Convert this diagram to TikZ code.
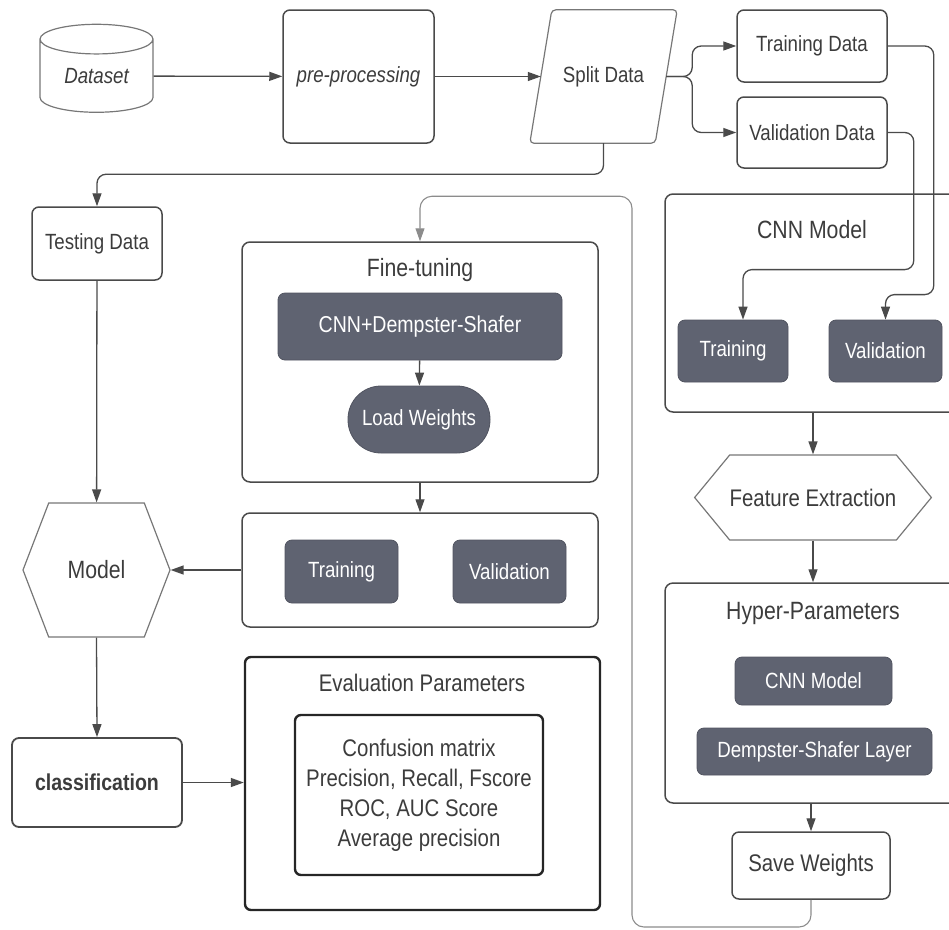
\documentclass[tikz,border=0pt]{standalone}
\usepackage{fontspec}
\setmainfont{Liberation Sans}[FakeStretch=0.85]
\usetikzlibrary{positioning, arrows.meta, calc, shapes.geometric, shapes.symbols}

\definecolor{linegray}{HTML}{4A4A4A}
\definecolor{txtgray}{HTML}{3C3C3C}
\definecolor{boxgray}{HTML}{5F6371}
\definecolor{loopgray}{HTML}{8C8C8C}

\begin{document}
\begin{tikzpicture}[
  x=1pt, y=-1pt,
  font=\fontsize{22}{27}\selectfont, text=txtgray,
  box/.style={draw=linegray, line width=1.5pt, rounded corners=7pt, align=center, inner sep=0pt},
  frame/.style={draw=linegray, line width=1.5pt, rounded corners=8pt, inner sep=0pt},
  thickframe/.style={draw=black!85, line width=2.4pt, rounded corners=6pt, inner sep=0pt},
  gbox/.style={fill=boxgray, draw=boxgray!85!black, line width=0.8pt, rounded corners=7pt,
    text=white, inner sep=0pt},
  hexa/.style={draw=linegray!75, line width=1.2pt, signal, signal to=west and east, inner sep=0pt},
  ttl/.style={font=\fontsize{25}{30}\selectfont},
  arr/.style={-{Triangle[length=13pt, width=9pt]}, line width=1.3pt, draw=linegray, rounded corners=9pt}
]
\useasboundingbox (0,0) rectangle (949,929);
\clip (0,0) rectangle (949,929);

% top row
\node[cylinder, shape border rotate=90, aspect=0.46, draw=linegray!75, line width=1.2pt,
  minimum width=113pt, minimum height=88pt, inner sep=0pt, font=\fontsize{22}{27}\selectfont\itshape]
  (dataset) at (96.5,76) {\raisebox{-4pt}{Dataset}};
\node[box, minimum width=151pt, minimum height=133pt, font=\fontsize{22}{27}\selectfont\itshape]
  (prep) at (358.5,76.5) {pre-processing};
\node[minimum width=125pt, minimum height=133pt, inner sep=0pt] (split) at (603.5,76.5) {\raisebox{4pt}{Split Data}};
\draw[draw=linegray!75, line width=1.2pt, rounded corners=4pt]
  ($(split.north west)+(11,0)$) -- ($(split.north east)+(11,0)$) --
  ($(split.south east)+(-11,0)$) -- ($(split.south west)+(-11,0)$) -- cycle;
\node[box, minimum width=150pt, minimum height=72pt] (trdata) at (812,46) {Training Data};
\node[box, minimum width=150pt, minimum height=71pt] (valdata) at (812,132.5) {Validation Data};

% left column
\node[box, minimum width=130pt, minimum height=73pt] (test) at (97,243.5) {Testing Data};
\node[hexa, signal pointer angle=138, minimum width=147pt, minimum height=134pt,
  font=\fontsize{25}{30}\selectfont] (model) at (96.5,570) {Model};
\node[box, line width=1.8pt, minimum width=170pt, minimum height=89pt, font=\fontsize{23}{28}\selectfont\bfseries]
  (cls) at (97,782.5) {classification};

% fine-tuning column
\node[frame, minimum width=356pt, minimum height=240pt] (fine) at (420,362) {};
\node[ttl] (finettl) at (420,270) {Fine-tuning};
\node[gbox, minimum width=284pt, minimum height=67pt, font=\fontsize{23}{28}\selectfont]
  (cnnds) at (420,326.5) {CNN+Dempster-Shafer};
\node[gbox, rounded corners=33pt, minimum width=142pt, minimum height=67pt] (loadw) at (419,419.5) {Load Weights};
\node[frame, minimum width=356pt, minimum height=114pt] (tvbox) at (420,570) {};
\node[gbox, minimum width=113pt, minimum height=63pt] (ftrain) at (341.5,571.5) {Training};
\node[gbox, minimum width=113pt, minimum height=63pt] (fval) at (509.5,571.5) {Validation};

\node[thickframe, minimum width=355pt, minimum height=253pt] (eval) at (422.5,783.5) {};
\node[font=\fontsize{24}{29}\selectfont] (evalttl) at (422,683) {Evaluation Parameters};
\node[thickframe, minimum width=248pt, minimum height=160pt, align=center,
  font=\fontsize{24}{30}\selectfont] (metrics) at (419,795)
  {Confusion matrix\\Precision, Recall, Fscore\\ROC, AUC Score\\Average precision};

% right column
\node[frame, minimum width=310pt, minimum height=218pt] (cnn) at (820,303) {};
\node[ttl] (cnnttl) at (812,230) {CNN Model};
\node[gbox, minimum width=110pt, minimum height=62pt] (ctrain) at (733,351) {Training};
\node[gbox, minimum width=113pt, minimum height=62pt] (cval) at (885.5,351) {Validation};
\node[hexa, signal pointer angle=101, minimum width=210pt, minimum height=85pt,
  font=\fontsize{24}{29}\selectfont] (feat) at (813,497.5) {Feature Extraction};
\node[frame, minimum width=310pt, minimum height=220pt] (hyper) at (820,693) {};
\node[ttl] (hyperttl) at (813,613) {Hyper-Parameters};
\node[gbox, minimum width=157pt, minimum height=48pt] (hcnn) at (813.5,681) {CNN Model};
\node[gbox, minimum width=235pt, minimum height=47pt] (hds) at (814.5,751.5) {Dempster-Shafer Layer};
\node[box, minimum width=158pt, minimum height=67pt, font=\fontsize{24}{29}\selectfont]
  (save) at (811,865.5) {Save Weights};

% connectors
\draw[arr] (dataset) -- (prep);
\draw[arr] (prep.east) -- (split.west);
\draw[arr] (split.east) -- ++(26,0) |- (trdata.west);
\draw[arr] (split.east) -- ++(26,0) |- (valdata.west);
\draw[arr] (trdata.east) -- ++(46,0) |- ($(cval.north)+(0,-25)$) -- (cval.north);
\draw[arr] (valdata.east) -- ++(26,0) |- ($(ctrain.north)+(10,-50)$) -- ($(ctrain.north)+(10,0)$);
\draw[arr] (split.south) |- ($(test.north)+(0,-32)$) -- (test.north);
\draw[arr] (test) -- (model);
\draw[arr] (model.south) -- (cls.north);
\draw[arr] (cls.east) -- (cls.east -| eval.west);
\draw[arr] (cnnds) -- (loadw);
\draw[arr] (fine) -- (tvbox);
\draw[arr] (tvbox.west) -- (model.east);
\draw[arr] (feat.north |- cnn.south) -- (feat.north);
\draw[arr] (feat.south) -- (feat.south |- hyper.north);
\draw[arr] (save.north |- hyper.south) -- (save.north);

% loop back to fine-tuning
\coordinate (loopbl) at (632,927);
\draw[arr, draw=loopgray, line width=1.1pt, rounded corners=12pt]
  (save.south) |- (loopbl) |- ($(fine.north)+(0,-45)$) -- (fine.north);

\end{tikzpicture}
\end{document}
